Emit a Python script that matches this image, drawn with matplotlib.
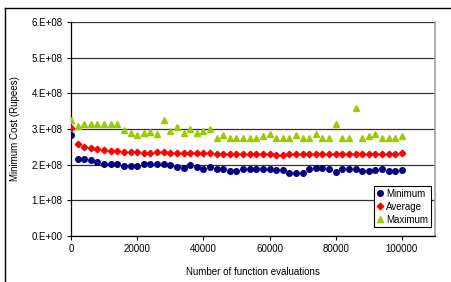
import matplotlib
matplotlib.use("Agg")
import matplotlib.pyplot as plt
from matplotlib.lines import Line2D
import numpy as np

plt.rcParams['font.family'] = ['Liberation Sans', 'DejaVu Sans']

evaluations = list(range(0, 100001, 2000))

minimum = [2.83, 2.15, 2.15, 2.13, 2.07, 2.02, 2.02, 2.02, 1.97, 1.96,
           1.96, 2.01, 2.01, 2.01, 2.02, 1.99, 1.94, 1.92, 1.99, 1.94,
           1.89, 1.94, 1.89, 1.89, 1.82, 1.82, 1.87, 1.89, 1.89, 1.88,
           1.87, 1.85, 1.84, 1.78, 1.76, 1.76, 1.89, 1.90, 1.90, 1.87,
           1.80, 1.89, 1.89, 1.87, 1.83, 1.83, 1.85, 1.89, 1.83, 1.83,
           1.85]

average = [3.02, 2.58, 2.50, 2.46, 2.43, 2.41, 2.39, 2.38, 2.36, 2.35,
           2.35, 2.34, 2.34, 2.35, 2.35, 2.34, 2.33, 2.32, 2.32, 2.32,
           2.32, 2.32, 2.31, 2.31, 2.31, 2.31, 2.30, 2.30, 2.30, 2.29,
           2.29, 2.28, 2.28, 2.29, 2.30, 2.30, 2.30, 2.30, 2.29, 2.29,
           2.29, 2.29, 2.29, 2.31, 2.31, 2.31, 2.31, 2.31, 2.29, 2.29,
           2.32]

maximum = [3.25, 3.09, 3.13, 3.13, 3.13, 3.13, 3.13, 3.13, 2.97, 2.90,
           2.82, 2.90, 2.92, 2.85, 3.25, 2.94, 3.05, 2.88, 3.01, 2.88,
           2.94, 2.99, 2.74, 2.82, 2.74, 2.74, 2.74, 2.74, 2.74, 2.79,
           2.85, 2.74, 2.74, 2.74, 2.82, 2.74, 2.74, 2.85, 2.74, 2.74,
           3.14, 2.74, 2.74, 3.60, 2.74, 2.81, 2.86, 2.74, 2.74, 2.74,
           2.81]

y_ticks = [0, 1e8, 2e8, 3e8, 4e8, 5e8, 6e8]
y_tick_labels = ["0.E+00", "1.E+08", "2.E+08", "3.E+08", "4.E+08", "5.E+08", "6.E+08"]
x_ticks = [0, 20000, 40000, 60000, 80000, 100000]

scale = 1e8
fig = plt.figure(figsize=(4.52, 2.82), dpi=100)
ax = fig.add_axes([71/452, 46/282, 364/452, 214/282])

ax.plot(evaluations, np.array(minimum) * scale, linestyle='none', marker='o',
        color='#000080', markersize=4, label='Minimum', zorder=3)
ax.plot(evaluations, np.array(average) * scale, linestyle='none', marker='D',
        color='#FF0000', markersize=3.3, label='Average', zorder=3)
ax.plot(evaluations, np.array(maximum) * scale, linestyle='none', marker='^',
        color='#99CC00', markersize=4.5, label='Maximum', zorder=3)

ax.set_xlim(0, 110000)
ax.set_ylim(0, 6e8)
ax.set_yticks(y_ticks)
ax.set_yticklabels(y_tick_labels)
ax.set_xticks(x_ticks)
ax.set_xticklabels([str(v) for v in x_ticks])
ax.tick_params(axis='both', labelsize=7, length=3, width=0.8, color='black', pad=3)

ax.yaxis.grid(True, color='#303030', linewidth=0.9)
ax.set_axisbelow(True)
for s in ['left', 'bottom']:
    ax.spines[s].set_color('black')
    ax.spines[s].set_linewidth(0.9)
ax.spines['top'].set_visible(False)
ax.spines['right'].set_color('#A0A0A0')
ax.spines['right'].set_linewidth(1.2)

ax.set_ylabel("Minimum Cost (Rupees)", fontsize=7, labelpad=8)
ax.set_xlabel("Number of function evaluations", fontsize=7, labelpad=9)

leg = ax.legend(loc='lower right', bbox_to_anchor=(0.99, 0.04), fontsize=7,
                frameon=True, fancybox=False, edgecolor='black', framealpha=1,
                handlelength=0.6, handletextpad=0.4, borderpad=0.3,
                labelspacing=0.3, borderaxespad=0)
leg.get_frame().set_linewidth(0.8)

# outer chart border (top and left)
fig.add_artist(Line2D([5/452, 5/452], [0, 1 - 8/282], transform=fig.transFigure,
                      color='black', linewidth=1))
fig.add_artist(Line2D([5/452, 1], [1 - 8/282, 1 - 8/282], transform=fig.transFigure,
                      color='black', linewidth=1))

fig.savefig("out.png", dpi=100)
